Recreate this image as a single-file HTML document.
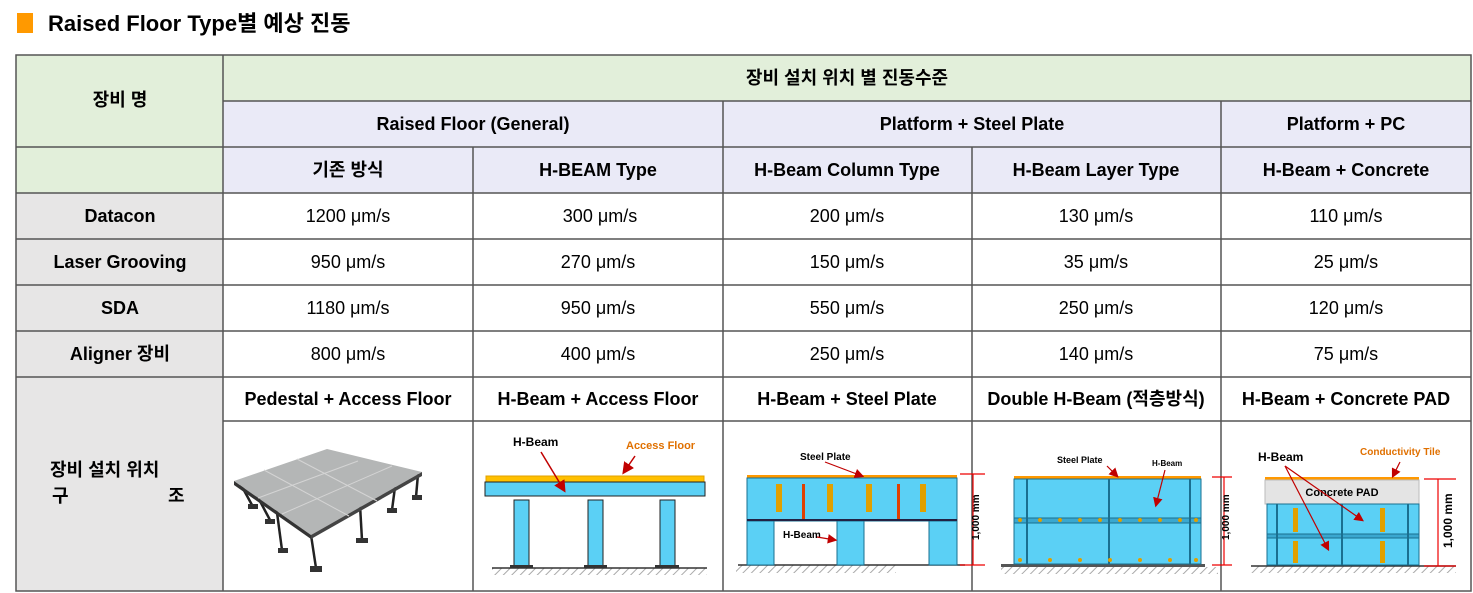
<!DOCTYPE html>
<html><head><meta charset="utf-8"><style>
html,body{margin:0;padding:0;background:#fff;width:1473px;height:593px;overflow:hidden}
svg{display:block}
text{font-family:"Liberation Sans","Noto Sans CJK KR",sans-serif}
.h{font-size:18px;font-weight:bold;fill:#000}
.v{font-size:18px;fill:#000}
.s{font-weight:bold;font-size:10px}
</style></head><body>
<svg width="1473" height="593" viewBox="0 0 1473 593" xmlns="http://www.w3.org/2000/svg">
<defs>
<pattern id="hat" width="6" height="6" patternUnits="userSpaceOnUse" patternTransform="rotate(45)"><line x1="0" y1="0" x2="0" y2="6" stroke="#aaa" stroke-width="2"/></pattern>
<marker id="ar" markerWidth="8" markerHeight="8" refX="6" refY="4" orient="auto"><path d="M0,0 L8,4 L0,8z" fill="#c00000"/></marker>
</defs>
<rect x="17" y="13" width="16" height="20" fill="#ff9900"/>
<text x="48" y="31" style="font-size:22px;font-weight:bold">Raised Floor Type별 예상 진동</text>

<rect x="16" y="55" width="207" height="138" fill="#e2efda"/>
<rect x="223" y="55" width="1248" height="46" fill="#e2efda"/>
<rect x="223" y="101" width="1248" height="92" fill="#eaeaf7"/>
<rect x="16" y="193" width="207" height="398" fill="#e7e6e6"/>
<g stroke="#555" stroke-width="1.5" fill="none">
<rect x="16" y="55" width="1455" height="536"/>
<line x1="223" y1="55" x2="223" y2="591"/>
<line x1="223" y1="101" x2="1471" y2="101"/>
<line x1="16" y1="147" x2="1471" y2="147"/>
<line x1="16" y1="193" x2="1471" y2="193"/>
<line x1="16" y1="239" x2="1471" y2="239"/>
<line x1="16" y1="285" x2="1471" y2="285"/>
<line x1="16" y1="331" x2="1471" y2="331"/>
<line x1="16" y1="377" x2="1471" y2="377"/>
<line x1="223" y1="421" x2="1471" y2="421"/>
<line x1="723" y1="101" x2="723" y2="591"/>
<line x1="1221" y1="101" x2="1221" y2="591"/>
<line x1="473" y1="147" x2="473" y2="591"/>
<line x1="972" y1="147" x2="972" y2="591"/>
</g>
<g text-anchor="middle">
<text class="h" x="120" y="106">장비 명</text>
<text class="h" x="847" y="84">장비 설치 위치 별 진동수준</text>
<text class="h" x="473" y="130">Raised Floor (General)</text>
<text class="h" x="972" y="130">Platform + Steel Plate</text>
<text class="h" x="1346" y="130">Platform + PC</text>
<text class="h" x="348" y="176">기존 방식</text>
<text class="h" x="598" y="176">H-BEAM Type</text>
<text class="h" x="847" y="176">H-Beam Column Type</text>
<text class="h" x="1096" y="176">H-Beam Layer Type</text>
<text class="h" x="1346" y="176">H-Beam + Concrete</text>

<text class="h" x="120" y="222">Datacon</text>
<text class="h" x="120" y="268">Laser Grooving</text>
<text class="h" x="120" y="314">SDA</text>
<text class="h" x="120" y="360">Aligner 장비</text>

<text class="v" x="348" y="222">1200 μm/s</text><text class="v" x="600" y="222">300 μm/s</text><text class="v" x="847" y="222">200 μm/s</text><text class="v" x="1096" y="222">130 μm/s</text><text class="v" x="1346" y="222">110 μm/s</text>
<text class="v" x="348" y="268">950 μm/s</text><text class="v" x="598" y="268">270 μm/s</text><text class="v" x="847" y="268">150 μm/s</text><text class="v" x="1096" y="268">35 μm/s</text><text class="v" x="1346" y="268">25 μm/s</text>
<text class="v" x="348" y="314">1180 μm/s</text><text class="v" x="598" y="314">950 μm/s</text><text class="v" x="847" y="314">550 μm/s</text><text class="v" x="1096" y="314">250 μm/s</text><text class="v" x="1346" y="314">120 μm/s</text>
<text class="v" x="348" y="360">800 μm/s</text><text class="v" x="598" y="360">400 μm/s</text><text class="v" x="847" y="360">250 μm/s</text><text class="v" x="1096" y="360">140 μm/s</text><text class="v" x="1346" y="360">75 μm/s</text>

<text class="h" x="348" y="405">Pedestal + Access Floor</text>
<text class="h" x="598" y="405">H-Beam + Access Floor</text>
<text class="h" x="847" y="405">H-Beam + Steel Plate</text>
<text class="h" x="1096" y="405">Double H-Beam (적층방식)</text>
<text class="h" x="1346" y="405">H-Beam + Concrete PAD</text>
</g>
<text class="h" x="50" y="476">장비 설치 위치</text>
<text class="h" x="52" y="502">구</text>
<text class="h" x="168" y="502">조</text>

<g stroke="#222" stroke-width="2.5">
<line x1="240" y1="483" x2="252" y2="505"/><line x1="253" y1="488" x2="270" y2="520"/><line x1="276" y1="505" x2="282" y2="550"/>
<line x1="311" y1="535" x2="316" y2="568"/><line x1="360" y1="505" x2="362" y2="540"/><line x1="395" y1="487" x2="392" y2="510"/><line x1="418" y1="474" x2="416" y2="497"/>
</g>
<polygon points="234,481 327,449 422,472 311,535" fill="#b4b6b6"/>
<polygon points="234,481 311,535 311,539 234,485" fill="#333"/>
<polygon points="311,535 422,472 422,476 311,539" fill="#444"/>
<g stroke="#d4d4d4" stroke-width="1"><line x1="264" y1="470" x2="349" y2="516"/><line x1="297" y1="459" x2="377" y2="501"/><line x1="258" y1="498" x2="358" y2="461"/><line x1="282" y1="514" x2="392" y2="466"/></g>
<g fill="#333"><rect x="248" y="504" width="10" height="5"/><rect x="265" y="519" width="10" height="5"/><rect x="278" y="548" width="10" height="5"/><rect x="310" y="566" width="12" height="6"/><rect x="356" y="538" width="12" height="5"/><rect x="387" y="508" width="10" height="5"/><rect x="412" y="495" width="10" height="5"/></g>

<rect x="492" y="568" width="215" height="7" fill="url(#hat)"/>
<line x1="492" y1="568" x2="707" y2="568" stroke="#333" stroke-width="1.5"/>
<rect x="486" y="476" width="218" height="6" fill="#ffc000" stroke="#e0a000"/>
<rect x="485" y="482" width="220" height="14" fill="#5bd0f5" stroke="#222"/>
<g fill="#5bd0f5" stroke="#222">
<rect x="514" y="500" width="15" height="66"/><rect x="588" y="500" width="15" height="66"/><rect x="660" y="500" width="15" height="66"/>
</g>
<g fill="#333"><rect x="510" y="565" width="23" height="3"/><rect x="584" y="565" width="23" height="3"/><rect x="655" y="565" width="24" height="3"/></g>
<text x="513" y="446" class="s" style="font-size:12px">H-Beam</text>
<text x="626" y="449" class="s" style="font-size:11px;fill:#e07000">Access Floor</text>
<line x1="541" y1="452" x2="564" y2="490" stroke="#c00000" stroke-width="1.5" marker-end="url(#ar)"/>
<line x1="635" y1="456" x2="624" y2="472" stroke="#c00000" stroke-width="1.5" marker-end="url(#ar)"/>

<rect x="736" y="565" width="160" height="8" fill="url(#hat)"/>
<line x1="738" y1="565" x2="965" y2="565" stroke="#333" stroke-width="1.5"/>
<rect x="747" y="475" width="210" height="3" fill="#ff9900"/>
<g fill="#5bd0f5" stroke="#1a6f90" stroke-width="1">
<rect x="747" y="478" width="210" height="43"/>
<rect x="747" y="521" width="27" height="44"/><rect x="837" y="521" width="27" height="44"/><rect x="929" y="521" width="28" height="44"/>
</g>
<line x1="747" y1="520" x2="957" y2="520" stroke="#224" stroke-width="2"/>
<rect x="802" y="484" width="3" height="35" fill="#e04000"/><rect x="897" y="484" width="3" height="35" fill="#e04000"/>
<g fill="#e0a000"><rect x="776" y="484" width="6" height="28"/><rect x="827" y="484" width="6" height="28"/><rect x="866" y="484" width="6" height="28"/><rect x="920" y="484" width="6" height="28"/></g>
<text x="800" y="460" class="s">Steel Plate</text>
<text x="783" y="538" class="s">H-Beam</text>
<line x1="825" y1="462" x2="862" y2="476" stroke="#c00000" stroke-width="1.2" marker-end="url(#ar)"/>
<line x1="817" y1="537" x2="835" y2="540" stroke="#c00000" stroke-width="1.2" marker-end="url(#ar)"/>
<g stroke="#e00" stroke-width="1.2"><line x1="973" y1="474" x2="973" y2="565"/><line x1="960" y1="474" x2="985" y2="474"/><line x1="960" y1="565" x2="985" y2="565"/></g>
<text transform="translate(979,540) rotate(-90)" class="s" style="font-size:10px">1,000 mm</text>

<rect x="1001" y="567" width="217" height="7" fill="url(#hat)"/>
<rect x="1001" y="564" width="204" height="3" fill="#555"/>
<rect x="1014" y="476" width="187" height="3" fill="#ff9900"/>
<rect x="1014" y="479" width="187" height="85" fill="#5bd0f5" stroke="#1a6f90"/>
<rect x="1014" y="518" width="187" height="5" fill="#3aa8d0" stroke="#1a6f90"/>
<g stroke="#1a6f90" stroke-width="2"><line x1="1027" y1="479" x2="1027" y2="564"/><line x1="1109" y1="479" x2="1109" y2="564"/><line x1="1190" y1="479" x2="1190" y2="564"/></g>
<g fill="#e0a000"><circle cx="1020" cy="520" r="2"/><circle cx="1040" cy="520" r="2"/><circle cx="1060" cy="520" r="2"/><circle cx="1080" cy="520" r="2"/><circle cx="1100" cy="520" r="2"/><circle cx="1120" cy="520" r="2"/><circle cx="1140" cy="520" r="2"/><circle cx="1160" cy="520" r="2"/><circle cx="1180" cy="520" r="2"/><circle cx="1196" cy="520" r="2"/>
<circle cx="1020" cy="560" r="2"/><circle cx="1050" cy="560" r="2"/><circle cx="1080" cy="560" r="2"/><circle cx="1110" cy="560" r="2"/><circle cx="1140" cy="560" r="2"/><circle cx="1170" cy="560" r="2"/><circle cx="1196" cy="560" r="2"/></g>
<text x="1057" y="463" class="s" style="font-size:9px">Steel Plate</text>
<text x="1152" y="466" class="s" style="font-size:8px">H-Beam</text>
<line x1="1107" y1="466" x2="1117" y2="476" stroke="#c00000" stroke-width="1.2" marker-end="url(#ar)"/>
<line x1="1165" y1="470" x2="1156" y2="505" stroke="#c00000" stroke-width="1.2" marker-end="url(#ar)"/>
<g stroke="#e00" stroke-width="1.2"><line x1="1224" y1="477" x2="1224" y2="565"/><line x1="1212" y1="477" x2="1232" y2="477"/><line x1="1212" y1="565" x2="1232" y2="565"/></g>
<text transform="translate(1229,540) rotate(-90)" class="s" style="font-size:10px">1,000 mm</text>

<rect x="1251" y="566" width="205" height="7" fill="url(#hat)"/>
<line x1="1251" y1="566" x2="1456" y2="566" stroke="#333" stroke-width="1.5"/>
<rect x="1265" y="477" width="154" height="3" fill="#ff9900"/>
<rect x="1265" y="480" width="154" height="24" fill="#e4e4e4" stroke="#bbb"/>
<text x="1342" y="496" text-anchor="middle" class="s" style="font-size:11px">Concrete PAD</text>
<rect x="1267" y="504" width="152" height="61" fill="#5bd0f5" stroke="#1a6f90"/>
<rect x="1267" y="534" width="152" height="4" fill="#3aa8d0" stroke="#1a6f90"/>
<g stroke="#1a6f90" stroke-width="2"><line x1="1277" y1="504" x2="1277" y2="565"/><line x1="1342" y1="504" x2="1342" y2="565"/><line x1="1408" y1="504" x2="1408" y2="565"/></g>
<g fill="#e0a000"><rect x="1293" y="508" width="5" height="24"/><rect x="1380" y="508" width="5" height="24"/><rect x="1293" y="541" width="5" height="22"/><rect x="1380" y="541" width="5" height="22"/></g>
<text x="1258" y="461" class="s" style="font-size:12px">H-Beam</text>
<text x="1360" y="455" class="s" style="font-size:10px;fill:#e07000">Conductivity Tile</text>
<g stroke="#c00000" stroke-width="1.2" marker-end="url(#ar)"><line x1="1285" y1="466" x2="1362" y2="520"/><line x1="1285" y1="466" x2="1328" y2="549"/><line x1="1400" y1="462" x2="1393" y2="476"/></g>
<g stroke="#e00" stroke-width="1.2"><line x1="1438" y1="479" x2="1438" y2="566"/><line x1="1424" y1="479" x2="1456" y2="479"/><line x1="1424" y1="566" x2="1456" y2="566"/></g>
<text transform="translate(1452,548) rotate(-90)" class="s" style="font-size:12px">1,000 mm</text>
</svg>
</body></html>
